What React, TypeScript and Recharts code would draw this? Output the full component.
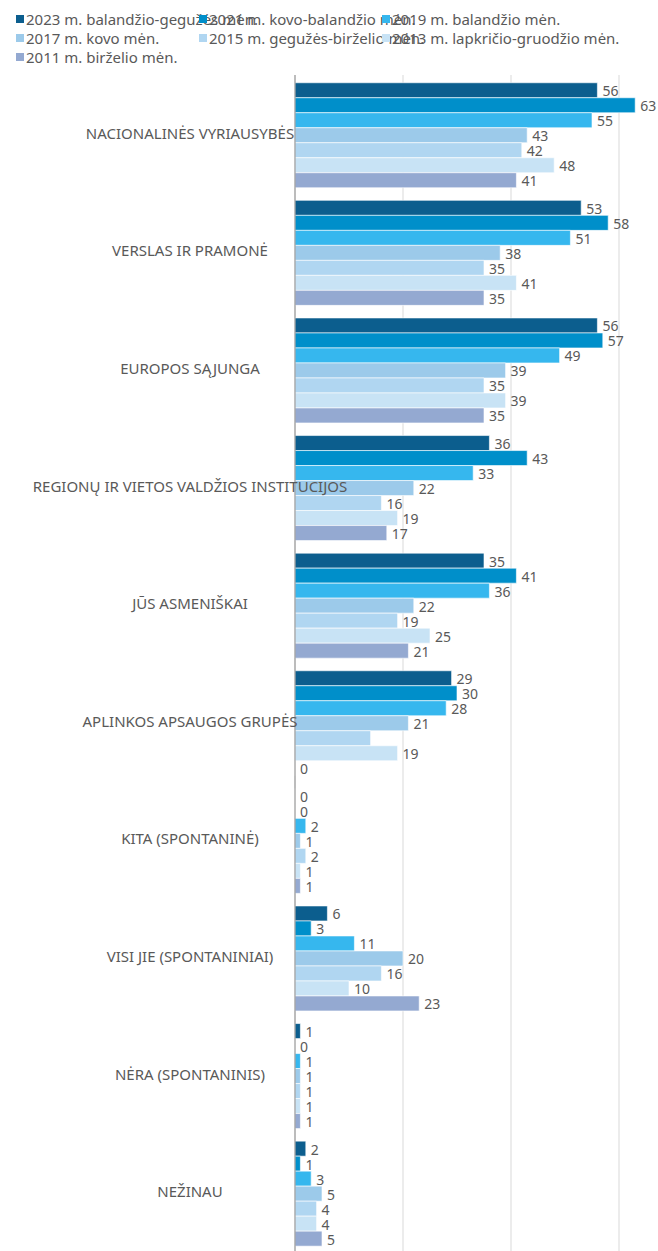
import React from 'react'
import { Bar, BarChart, CartesianGrid, LabelList, XAxis, YAxis } from 'recharts'

const categories = [
  'NACIONALINĖS VYRIAUSYBĖS',
  'VERSLAS IR PRAMONĖ',
  'EUROPOS SĄJUNGA',
  'REGIONŲ IR VIETOS VALDŽIOS INSTITUCIJOS',
  'JŪS ASMENIŠKAI',
  'APLINKOS APSAUGOS GRUPĖS',
  'KITA (SPONTANINĖ)',
  'VISI JIE (SPONTANINIAI)',
  'NĖRA (SPONTANINIS)',
  'NEŽINAU',
]

const series = [
  { key: 's2023', name: '2023 m. balandžio-gegužės mėn.', color: '#0c5e8e' },
  { key: 's2021', name: '2021 m. kovo-balandžio mėn.', color: '#008fca' },
  { key: 's2019', name: '2019 m. balandžio mėn.', color: '#36b7ee' },
  { key: 's2017', name: '2017 m. kovo mėn.', color: '#9ccaea' },
  { key: 's2015', name: '2015 m. gegužės-birželio mėn.', color: '#b0d6f1' },
  { key: 's2013', name: '2013 m. lapkričio-gruodžio mėn.', color: '#c8e3f5' },
  { key: 's2011', name: '2011 m. birželio mėn.', color: '#94a9d1' },
]

const values2023 = [56, 53, 56, 36, 35, 29, 0, 6, 1, 2]
const values2021 = [63, 58, 57, 43, 41, 30, 0, 3, 0, 1]
const values2019 = [55, 51, 49, 33, 36, 28, 2, 11, 1, 3]
const values2017 = [43, 38, 39, 22, 22, 21, 1, 20, 1, 5]
const values2015 = [42, 35, 35, 16, 19, 14, 2, 16, 1, 4]
const values2013 = [48, 41, 39, 19, 25, 19, 1, 10, 1, 4]
const values2011 = [41, 35, 35, 17, 21, 0, 1, 23, 1, 5]

// labels not shown in the original (series key -> category index)
const hiddenLabels: Record<string, number[]> = { s2015: [5] }

const xTicks = [0, 20, 40, 60]

const data = categories.map((name, i) => ({
  name,
  s2023: values2023[i],
  s2021: values2021[i],
  s2019: values2019[i],
  s2017: values2017[i],
  s2015: values2015[i],
  s2013: values2013[i],
  s2011: values2011[i],
}))

const FONT = '"Noto Sans", "Open Sans", sans-serif'
const TEXT = '#595959'

function CategoryTick(props: any) {
  const { y, payload } = props
  return (
    <text x={190} y={y} dy={5} textAnchor="middle" fontSize={15} fill={TEXT} fontFamily={FONT}>
      {payload.value}
    </text>
  )
}

const makeLabel = (key: string) => (props: any) => {
  const { x, y, width, height, value, index } = props
  if ((hiddenLabels[key] || []).includes(index)) return null
  return (
    <text
      x={x + Math.max(width, 0) + 5}
      y={y + height / 2 + 6}
      fontSize={14}
      fill={TEXT}
      fontFamily={FONT}
    >
      {value}
    </text>
  )
}

export default function App() {
  return (
    <div
      style={{
        position: 'absolute',
        left: 0,
        top: 0,
        width: 658,
        height: 1251,
        overflow: 'hidden',
        background: '#fff',
        fontFamily: FONT,
      }}
    >
      <div style={{ position: 'absolute', left: 16, top: 9, width: 560 }}>
        {series.map((s, i) => (
          <div
            key={s.key}
            style={{
              position: 'absolute',
              left: (i % 3) * 183,
              top: Math.floor(i / 3) * 19,
              whiteSpace: 'nowrap',
              fontSize: 15,
              lineHeight: '20px',
              color: TEXT,
              display: 'flex',
              alignItems: 'center',
            }}
          >
            <span style={{ display: 'inline-block', width: 8, height: 8, background: s.color, marginRight: 2 }} />
            {s.name}
          </div>
        ))}
      </div>
      <div style={{ position: 'absolute', left: 0, top: 0 }}>
        <BarChart
          width={680}
          height={1251}
          data={data}
          layout="vertical"
          margin={{ top: 75, right: 7, bottom: 0, left: 0 }}
          barCategoryGap="6.6%"
          barGap={0}
        >
          <CartesianGrid horizontal={false} stroke="#d9d9d9" />
          <XAxis type="number" domain={[0, 70]} ticks={xTicks} hide />
          <YAxis
            type="category"
            dataKey="name"
            width={295}
            axisLine={{ stroke: '#8c8c8c' }}
            tickLine={false}
            tick={<CategoryTick />}
            interval={0}
          />
          {series.map((s) => (
            <Bar
              key={s.key}
              dataKey={s.key}
              name={s.name}
              fill={s.color}
              stroke="#ffffff"
              strokeWidth={0.6}
              minPointSize={0.01}
              isAnimationActive={false}
            >
              <LabelList dataKey={s.key} content={makeLabel(s.key)} />
            </Bar>
          ))}
        </BarChart>
      </div>
    </div>
  )
}
